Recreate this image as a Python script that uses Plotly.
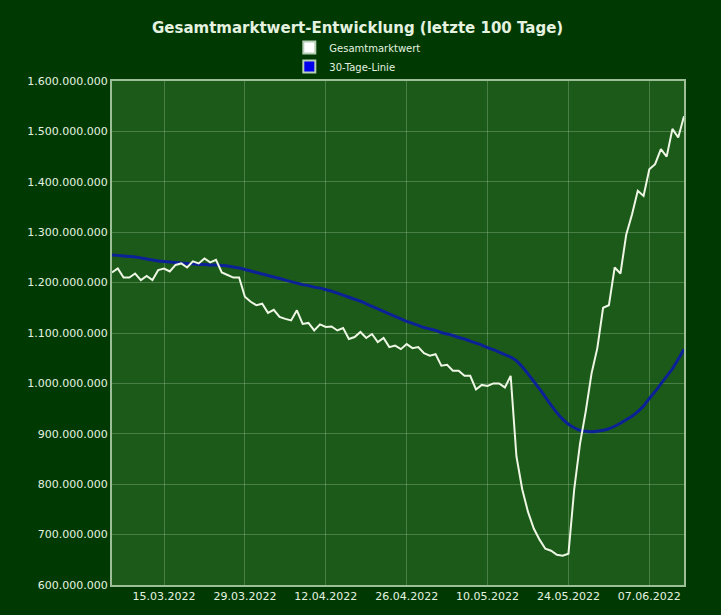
import plotly.graph_objects as go
import pandas as pd

dates = pd.date_range("2022-03-06", periods=100, freq="D")

gesamt = [
    1.220, 1.228, 1.210, 1.210, 1.218, 1.205, 1.213, 1.205, 1.225, 1.228,
    1.222, 1.235, 1.238, 1.230, 1.242, 1.238, 1.248, 1.240, 1.245, 1.220,
    1.215, 1.210, 1.210, 1.172, 1.162, 1.155, 1.158, 1.140, 1.146, 1.132,
    1.128, 1.125, 1.145, 1.118, 1.120, 1.105, 1.117, 1.112, 1.113, 1.105,
    1.110, 1.088, 1.092, 1.102, 1.090, 1.098, 1.082, 1.090, 1.072, 1.075,
    1.068, 1.078, 1.070, 1.072, 1.060, 1.055, 1.058, 1.035, 1.037, 1.025,
    1.025, 1.015, 1.015, 0.988, 0.997, 0.995, 1.000, 1.000, 0.992, 1.015,
    0.855, 0.790, 0.745, 0.712, 0.690, 0.672, 0.668, 0.660, 0.658, 0.662,
    0.790, 0.880, 0.945, 1.020, 1.070, 1.150, 1.155, 1.230, 1.218, 1.295,
    1.335, 1.382, 1.372, 1.425, 1.435, 1.465, 1.450, 1.505, 1.488, 1.530,
]

linie30 = [
    1.255, 1.254, 1.253, 1.252, 1.251, 1.249, 1.247, 1.245, 1.243, 1.242,
    1.241, 1.240, 1.239, 1.238, 1.237, 1.236, 1.236, 1.235, 1.235, 1.234,
    1.233, 1.231, 1.229, 1.226, 1.223, 1.220, 1.217, 1.214, 1.211, 1.208,
    1.205, 1.202, 1.199, 1.196, 1.194, 1.191, 1.189, 1.186, 1.183, 1.179,
    1.175, 1.171, 1.167, 1.163, 1.158, 1.153, 1.148, 1.143, 1.138, 1.133,
    1.128, 1.123, 1.119, 1.115, 1.111, 1.108, 1.105, 1.101, 1.098, 1.095,
    1.091, 1.088, 1.084, 1.080, 1.076, 1.071, 1.067, 1.062, 1.057, 1.052,
    1.045, 1.033, 1.019, 1.004, 0.989, 0.973, 0.957, 0.942, 0.929, 0.919,
    0.912, 0.907, 0.905, 0.904, 0.905, 0.907, 0.910, 0.915, 0.921, 0.928,
    0.935, 0.944, 0.955, 0.970, 0.984, 0.999, 1.014, 1.029, 1.048, 1.068,
]

gesamt = [v * 1e9 for v in gesamt]
linie30 = [v * 1e9 for v in linie30]

TITLE = "Gesamtmarktwert-Entwicklung (letzte 100 Tage)"
NAMES = ["Gesamtmarktwert", "30-Tage-Linie"]

fig = go.Figure()
fig.add_trace(go.Scatter(x=dates, y=linie30, mode="lines", showlegend=False,
                         line=dict(color="#0d2196", width=3, shape="spline", smoothing=0.6)))
fig.add_trace(go.Scatter(x=dates, y=gesamt, mode="lines", showlegend=False,
                         line=dict(color="#eef6e4", width=2)))
# legend-only entries (square swatches)
fig.add_trace(go.Scatter(x=[None], y=[None], mode="markers", name=NAMES[0],
                         marker=dict(symbol="square", size=12, color="#ffffff",
                                     line=dict(color="#b8d0b8", width=1))))
fig.add_trace(go.Scatter(x=[None], y=[None], mode="markers", name=NAMES[1],
                         marker=dict(symbol="square", size=12, color="#0000ee",
                                     line=dict(color="#b8d0b8", width=1))))

font_fam = "DejaVu Sans, Verdana, sans-serif"
fig.update_layout(
    width=721, height=615,
    paper_bgcolor="#003a02",
    plot_bgcolor="#1c5a1a",
    margin=dict(l=112, r=37, t=81, b=24),
    separators=",.",
    font=dict(family=font_fam, size=11, color="#e6f2e0"),
    title=dict(text="<b>" + TITLE + "</b>", x=0.496, xanchor="center", y=0.955, yanchor="middle",
               font=dict(size=15, color="#e6f2e0", family=font_fam)),
    legend=dict(orientation="v", x=0.31, xanchor="left", y=1.095, yanchor="top",
                font=dict(size=10, color="#e6f2e0"), bgcolor="rgba(0,0,0,0)",
                itemsizing="constant", tracegroupgap=0),
    xaxis=dict(
        range=[dates[0], dates[-1]],
        tick0="2022-03-15", dtick=14 * 24 * 3600 * 1000,
        tickformat="%d.%m.%Y",
        showgrid=True, gridcolor="rgba(190,220,180,0.28)", gridwidth=1,
        showline=True, linecolor="#9cbf98", linewidth=2, mirror=True,
        ticks="", tickfont=dict(size=11, color="#e6f2e0"),
        zeroline=False,
    ),
    yaxis=dict(
        range=[6e8, 1.6e9], dtick=1e8, tickformat=",d",
        showgrid=True, gridcolor="rgba(190,220,180,0.28)", gridwidth=1,
        showline=True, linecolor="#9cbf98", linewidth=2, mirror=True,
        ticks="", tickfont=dict(size=11, color="#e6f2e0"),
        zeroline=False,
    ),
)

fig.write_html("out.html")
